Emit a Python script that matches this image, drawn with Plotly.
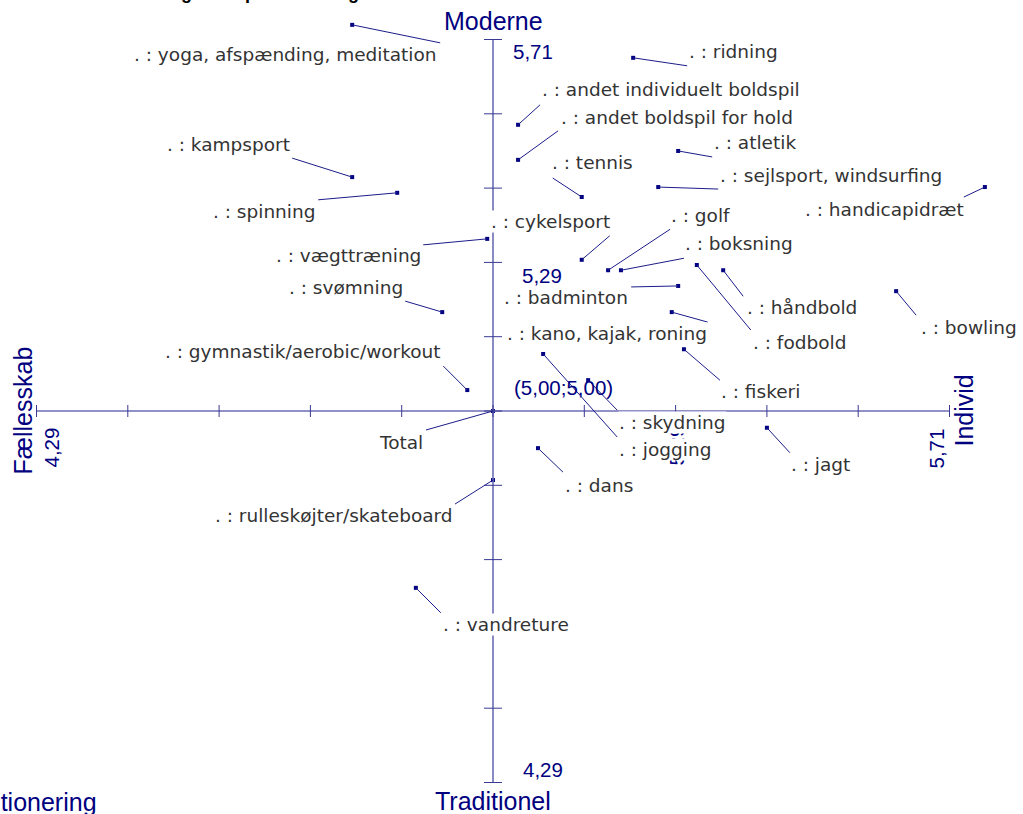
import numpy as np
import plotly.graph_objects as go

# ---------------- data ----------------
sports = [
    ". : yoga, afspænding, meditation", ". : ridning", ". : andet individuelt boldspil",
    ". : andet boldspil for hold", ". : atletik", ". : tennis", ". : sejlsport, windsurfing",
    ". : handicapidræt", ". : kampsport", ". : spinning", ". : vægttræning", ". : svømning",
    ". : cykelsport", ". : golf", ". : boksning", ". : badminton", ". : håndbold",
    ". : fodbold", ". : kano, kajak, roning", ". : bowling", ". : gymnastik/aerobic/workout",
    ". : fiskeri", "Total", ". : skydning", ". : jogging", ". : jagt", ". : dans",
    ". : rulleskøjter/skateboard", ". : vandreture",
]
# Fællesskab (4.29) -> Individ (5.71)
individ = [4.781, 5.218, 5.039, 5.039, 5.288, 5.138, 5.257, 5.765, 4.781, 4.851,
           4.991, 4.921, 5.138, 5.179, 5.199, 5.288, 5.358, 5.317, 5.278, 5.627,
           4.960, 5.297, 5.000, 5.148, 5.078, 5.426, 5.070, 5.000, 4.880]
# Traditionel (4.29) -> Moderne (5.71)
moderne = [5.738, 5.675, 5.547, 5.480, 5.497, 5.409, 5.428, 5.428, 5.447, 5.417,
           5.329, 5.189, 5.289, 5.269, 5.269, 5.239, 5.269, 5.279, 5.189, 5.229,
           5.040, 5.118, 5.000, 5.059, 5.109, 4.968, 4.929, 4.868, 4.662]

axis_min, axis_mid, axis_max = 4.29, 5.00, 5.71
axis_tick_labels = {"4.29": "4,29", "5.29": "5,29", "5.71": "5,71"}

# ---------------- label layout (pixel offsets from each point) ----------------
line_dx = [88, 54, 22, 40, 34, -29, 60, -21, -60, -79, -64, -37, 28, 62, 63, -47, 20, 54, 36, 20,
           -24, 36, -67, 29, 74, 23, 25, -38, 25]
line_dy = [18, 8, -20, -29, 6, -19, 2, 10, -19, 7, 6, -11, -24, -41, -12, 1, 26, 65, 10, 24,
           -24, 31, 19, 30, 83, 25, 24, 24, 25]
lab_dx = [86, 55, 23, 42, 35, -31, 61, -20, -61, -81, -65, -38, 29, 62, 63, -49, 23, 55, 36, 24,
          -25, 36, -69, 30, 75, 23, 26, -39, 26]
lab_dy = [30, -6, -35, -42, -8, -35, -12, 22, -33, 19, 17, -25, -38, -55, -27, 12, 37, 77, 21, 36,
          -39, 42, 31, 42, 96, 37, 37, 35, 37]
lab_side = ["right", "left", "left", "left", "left", "left", "left", "right", "right", "right",
            "right", "right", "right", "left", "left", "right", "left", "left", "right", "left",
            "right", "left", "right", "left", "left", "left", "left", "right", "left"]

NAVY = "#000080"
AXIS_COL = "#6c6cb6"
GRAY = "#333333"
ARIAL = "Liberation Sans, Arial, sans-serif"
LABEL_FONT = dict(family="DejaVu Sans, sans-serif", size=18.5, color=GRAY)

W, H = 1023, 814
kx = (axis_max - axis_mid) / 456.5
ky = (axis_max - axis_mid) / 371.5
x_range = [axis_mid - 493 * kx, axis_mid + (W - 493) * kx]
y_range = [axis_mid - (H - 411) * ky, axis_mid + 411 * ky]

fig = go.Figure()

shapes = []
# main axes
shapes.append(dict(type="line", xref="x", yref="y", x0=axis_min, x1=axis_max, y0=axis_mid, y1=axis_mid,
                   line=dict(color=AXIS_COL, width=1.6)))
shapes.append(dict(type="line", xref="x", yref="y", x0=axis_mid, x1=axis_mid, y0=axis_min, y1=axis_max,
                   line=dict(color=AXIS_COL, width=1.6)))
ticks = np.linspace(axis_min, axis_max, 11)
for t in ticks:
    shapes.append(dict(type="line", xref="x", yref="y", xsizemode="scaled", ysizemode="pixel",
                       yanchor=axis_mid, x0=t, x1=t, y0=-6, y1=6, line=dict(color="#3a3a95", width=1)))
    shapes.append(dict(type="line", xref="x", yref="y", xsizemode="pixel", ysizemode="scaled",
                       xanchor=axis_mid, x0=-9, x1=9, y0=t, y1=t, line=dict(color="#3a3a95", width=1)))
# leader lines
for xv, yv, dx, dy in zip(individ, moderne, line_dx, line_dy):
    shapes.append(dict(type="line", xref="x", yref="y", xsizemode="pixel", ysizemode="pixel",
                       xanchor=xv, yanchor=yv, x0=0, y0=0, x1=dx, y1=-dy,
                       line=dict(color="#1c1c8a", width=1)))

fig.add_trace(go.Scatter(x=individ, y=moderne, mode="markers",
                         marker=dict(symbol="square", size=4, color=NAVY, line=dict(width=0)),
                         hoverinfo="text", hovertext=sports, showlegend=False))

ann = []
# tick value labels (no background, drawn first)
num_font = dict(family=ARIAL, size=20.5, color=NAVY)
ann.append(dict(x=axis_mid, y=axis_max, text=axis_tick_labels["5.71"], xshift=40, yshift=-12, showarrow=False, font=num_font))
ann.append(dict(x=axis_mid, y=axis_mid + 2 * (axis_max - axis_mid) / 5, text=axis_tick_labels["5.29"], xshift=49, yshift=-13, showarrow=False, font=num_font))
ann.append(dict(x=axis_mid, y=axis_min, text=axis_tick_labels["4.29"], xshift=50, yshift=13, showarrow=False, font=num_font))
ann.append(dict(x=axis_min, y=axis_mid, text=axis_tick_labels["4.29"], xshift=14, yshift=-37, textangle=-90, showarrow=False, font=num_font))
ann.append(dict(x=axis_mid + 2 * (axis_max - axis_mid) / 5, y=axis_mid, text=axis_tick_labels["5.29"], xshift=0, yshift=-35, textangle=-90, showarrow=False, font=num_font))
ann.append(dict(x=axis_max, y=axis_mid, text=axis_tick_labels["5.71"], xshift=-14, yshift=-38, textangle=-90, showarrow=False, font=num_font))
ann.append(dict(x=axis_mid, y=axis_mid, text="(5,00;5,00)", xshift=70, yshift=24, showarrow=False, font=num_font))

pole_font = dict(family=ARIAL, size=25, color=NAVY)
ann.append(dict(x=axis_mid, y=axis_max, text="Moderne", yshift=19, showarrow=False, font=pole_font))
ann.append(dict(x=axis_mid, y=axis_min, text="Traditionel", yshift=-18, showarrow=False, font=pole_font))
ann.append(dict(x=axis_min, y=axis_mid, text="Fællesskab", xshift=-14, textangle=-90, showarrow=False, font=pole_font))
ann.append(dict(x=axis_max, y=axis_mid, text="Individ", xshift=14, textangle=-90, showarrow=False, font=pole_font))

# point labels
for name, xv, yv, dx, dy, side in zip(sports, individ, moderne, lab_dx, lab_dy, lab_side):
    ann.append(dict(x=xv, y=yv, text=name, xanchor=side, yanchor="middle", xshift=dx, yshift=-dy,
                    showarrow=False, font=LABEL_FONT, bgcolor="white", borderpad=0))

# cut-off title and footer text
ann.append(dict(xref="paper", yref="paper", x=242 / W, y=1 - 5 / H, xanchor="center", yanchor="bottom",
                text="<b>Idrætsgrenes positionering</b>", showarrow=False,
                font=dict(family=ARIAL, size=18, color="black")))
ann.append(dict(xref="paper", yref="paper", x=99 / W, y=1 - 802 / H, xanchor="right", yanchor="middle",
                text="Positionering", showarrow=False, font=pole_font))

for a in ann:
    a.setdefault("xref", "x")
    a.setdefault("yref", "y")

fig.update_layout(
    width=W, height=H, margin=dict(l=0, r=0, t=0, b=0),
    paper_bgcolor="white", plot_bgcolor="white",
    xaxis=dict(range=x_range, visible=False, fixedrange=True),
    yaxis=dict(range=y_range, visible=False, fixedrange=True),
    shapes=shapes, annotations=ann, showlegend=False,
)
fig.write_html(
    "out.html",
    config={"displayModeBar": False},
    post_script="document.body.style.margin='0';document.body.style.overflow='hidden';",
)
